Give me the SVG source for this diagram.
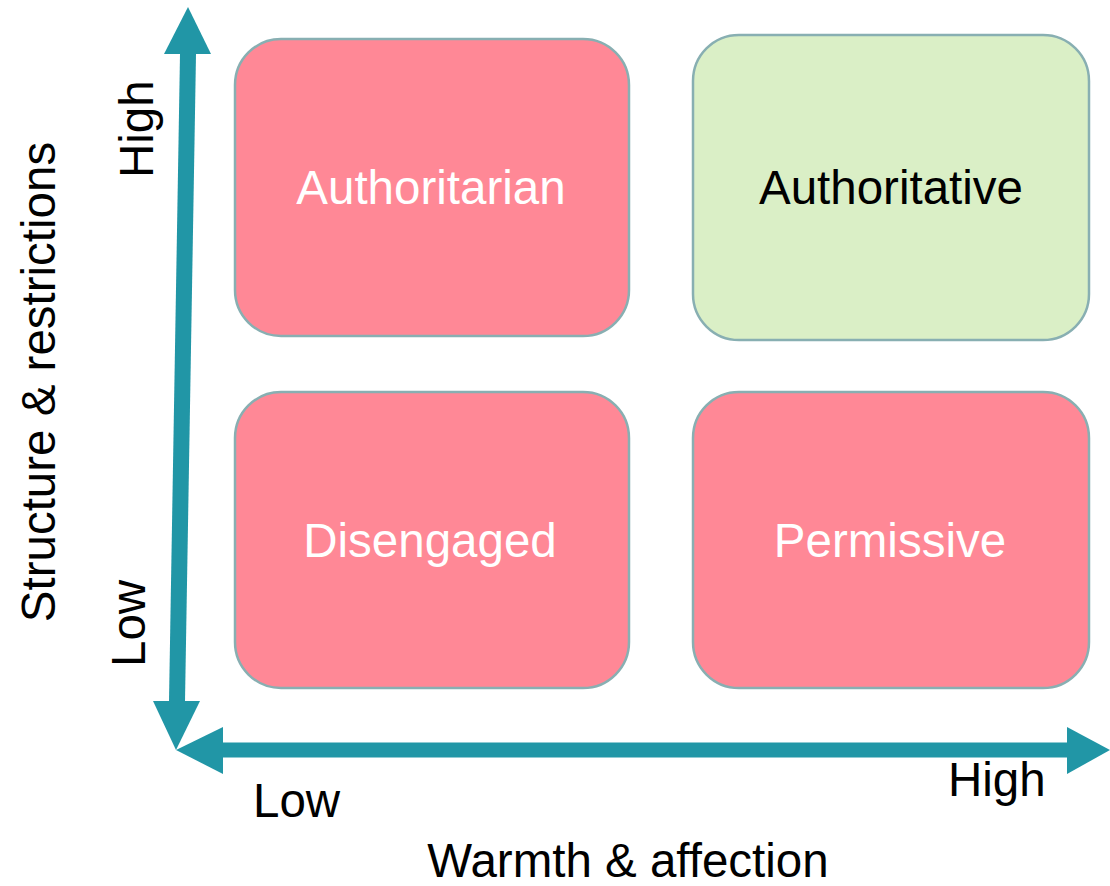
<svg xmlns="http://www.w3.org/2000/svg" width="1110" height="886" viewBox="0 0 1110 886">
<style>
.box{stroke:#88AFB2;stroke-width:2.5}
.red{fill:#FF8896}
.green{fill:#DAEFC6}
text{font-family:"Liberation Sans",Arial,sans-serif;font-size:47.5px}
.lbl{text-anchor:middle}
.w{fill:#FFFFFF}
.k{fill:#000000}
.arrow{fill:#2196A6}
</style>
<rect width="1110" height="886" fill="#FFFFFF"/>
<g id="connectors">
<g id="y-axis">
<polygon class="arrow" points="180,54 196,54 185,701 169,701"/>
<polygon class="arrow" points="188,7 211,54 164,54"/>
<polygon class="arrow" points="176,750 153,701 200,701"/>
</g>
<g id="x-axis">
<rect class="arrow" x="222" y="742.5" width="846" height="15"/>
<polygon class="arrow" points="176,750 223,727 223,774"/>
<polygon class="arrow" points="1110,750 1067,727 1067,774"/>
</g>
</g>
<g id="authoritarian">
<rect class="box red" x="235" y="39" width="394" height="297" rx="46" ry="46"/>
<text class="lbl w" x="431" y="204">Authoritarian</text>
</g>
<g id="authoritative">
<rect class="box green" x="693" y="35" width="396" height="305" rx="46" ry="46"/>
<text class="lbl k" x="891" y="204">Authoritative</text>
</g>
<g id="disengaged">
<rect class="box red" x="235" y="392" width="394" height="296" rx="46" ry="46"/>
<text class="lbl w" x="430" y="557">Disengaged</text>
</g>
<g id="permissive">
<rect class="box red" x="693" y="392" width="396" height="296" rx="46" ry="46"/>
<text class="lbl w" x="890" y="557">Permissive</text>
</g>
<g id="axis-labels">
<text class="lbl k" transform="translate(55,382) rotate(-90)">Structure &amp; restrictions</text>
<text class="k" transform="translate(153,178) rotate(-90)">High</text>
<text class="k" transform="translate(145,667) rotate(-90)">Low</text>
<text class="k" x="253" y="817">Low</text>
<text class="k" x="948" y="796">High</text>
<text class="lbl k" x="628" y="877">Warmth &amp; affection</text>
</g>
</svg>
